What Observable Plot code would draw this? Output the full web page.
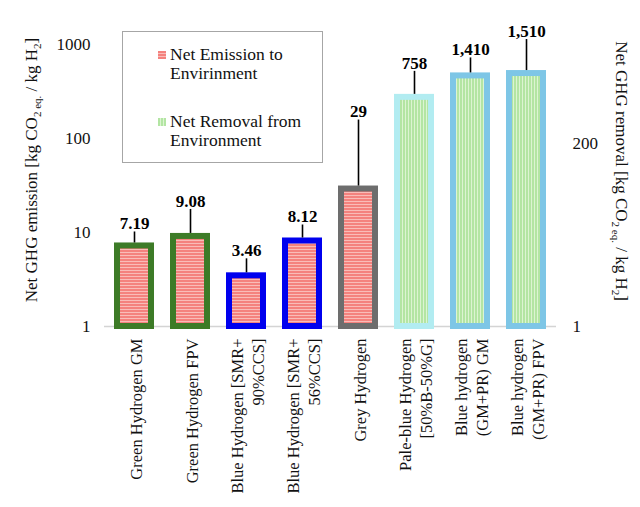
<!DOCTYPE html>
<html><head><meta charset="utf-8">
<script src="https://cdn.jsdelivr.net/npm/d3@7"></script>
<script src="https://cdn.jsdelivr.net/npm/@observablehq/plot@0.6"></script>
<style>
body{margin:0;background:#fff;}
#wrap{position:relative;width:640px;height:507px;font-family:"Liberation Serif","Times New Roman",serif;}
#legend{position:absolute;left:122px;top:31px;width:201px;height:132px;border:1px solid #a6a6a6;box-sizing:border-box;background:#fff;font-size:17.5px;line-height:19px;color:#111;}
#legend .txt{position:absolute;left:47px;white-space:nowrap;}
#legend .sw{position:absolute;left:35px;width:8px;height:8px;}
.red{background:repeating-linear-gradient(to bottom,#f4827e 0 2px,#f9bcb8 2px 3px);}
.green{background:repeating-linear-gradient(to right,#b3e5a3 0 2px,#dcf4d2 2px 3px);}
</style></head>
<body>
<div id="wrap">
  <div id="chart"></div>
  <div id="legend">
    <div class="sw red" style="top:19px"></div>
    <div class="txt" style="top:13px">Net Emission to<br>Envirinment</div>
    <div class="sw green" style="top:86px"></div>
    <div class="txt" style="top:80px">Net Removal from<br>Environment</div>
  </div>
</div>
<script>
// ---- data ----
const categories = ["Green Hydrogen GM","Green Hydrogen FPV","Blue Hydrogen [SMR+\n90%CCS]","Blue Hydrogen [SMR+\n56%CCS]","Grey Hydrogen","Pale-blue Hydrogen\n[50%B-50%G]","Blue hydrogen\n(GM+PR) GM","Blue hydrogen\n(GM+PR) FPV"];
const values = [7.19, 9.08, 3.46, 8.12, 29, 758, 1410, 1510];
const kinds = ["emission","emission","emission","emission","emission","removal","removal","removal"];
const outlineColors = ["#3d7b27","#3d7b27","#0000ee","#0000ee","#6d6d6d","#b2ecf1","#7ec6e6","#7ec6e6"];
const leftTicks = [1, 10, 100, 1000];
const rightTicks = [1, 200];
const rightMax = 3500; // right-axis value level with left-axis 1000

// ---- layout (annotation placement, px above bar top) ----
const labelLift = [22, 35, 25, 24, 77, 34, 26, 42];

const W = 640, H = 507, mt = 44, mb = 181, ml = 104, mr = 84;
const pxPerDecade = (H - mt - mb) / 3;
const toLeft = v => Math.pow(10, 3 * Math.log10(v) / Math.log10(rightMax));

const rows = categories.map((c, i) => {
  const y = kinds[i] === "emission" ? values[i] : toLeft(values[i]);
  return {cat: c, value: values[i], kind: kinds[i], y,
    outline: outlineColors[i], label: d3.format(",")(values[i]),
    labelAt: y * Math.pow(10, labelLift[i] / pxPerDecade)};
});

const plot = Plot.plot({
  width: W, height: H,
  marginTop: mt, marginBottom: mb, marginLeft: ml, marginRight: mr,
  style: {fontFamily: "Liberation Serif, Times New Roman, serif", fontSize: "17px", color: "#111", background: "#fff"},
  x: {domain: categories, paddingInner: 0.4, paddingOuter: 0.2},
  y: {type: "log", domain: [1, 1000]},
  marks: [
    Plot.ruleY([1], {stroke: "#d4d4d4", strokeWidth: 1.5}),
    Plot.barY(rows.filter(d => d.kind === "emission"), {x: "cat", y1: 1, y2: "y", fill: "url(#hatchRed)", stroke: "outline", strokeWidth: 6}),
    Plot.barY(rows.filter(d => d.kind === "removal"), {x: "cat", y1: 1, y2: "y", fill: "url(#hatchGreen)", stroke: "outline", strokeWidth: 6}),
    Plot.ruleX(rows, {x: "cat", y1: "labelAt", y2: "y", insetTop: 8, insetBottom: 3, stroke: "#000", strokeWidth: 1.6}),
    Plot.text(rows, {x: "cat", y: "labelAt", text: "label", fontWeight: "bold", fontSize: 17, fill: "#000"}),
    Plot.axisY(leftTicks, {tickSize: 0, tickPadding: 14, tickFormat: d => String(d), label: null, fontSize: 17}),
    Plot.text(rightTicks, {y: d => toLeft(d), text: d => String(d), frameAnchor: "right", textAnchor: "start", dx: 16, fontSize: 17, fill: "#111"}),
    Plot.axisX({tickRotate: -90, tickSize: 0, tickPadding: 12, label: null, fontSize: 16.5, lineHeight: 1.33})
  ]
});

const svg = d3.select(plot);
const defs = svg.insert("defs", ":first-child");
const pr = defs.append("pattern").attr("id", "hatchRed").attr("patternUnits", "userSpaceOnUse").attr("width", 4).attr("height", 3);
pr.append("rect").attr("width", 4).attr("height", 3).attr("fill", "#f4827e");
pr.append("rect").attr("width", 4).attr("height", 1).attr("fill", "#f9bcb8");
const pg = defs.append("pattern").attr("id", "hatchGreen").attr("patternUnits", "userSpaceOnUse").attr("width", 3).attr("height", 4);
pg.append("rect").attr("width", 3).attr("height", 4).attr("fill", "#b3e5a3");
pg.append("rect").attr("width", 1).attr("height", 4).attr("fill", "#dcf4d2");

function title(x, y, rot, parts) {
  const t = svg.append("text").attr("transform", `translate(${x},${y}) rotate(${rot})`)
    .attr("text-anchor", "middle").attr("font-size", 17).attr("fill", "#111")
    .attr("font-family", "Liberation Serif, Times New Roman, serif");
  parts.forEach(([s, sub], k) => {
    const ts = t.append("tspan").text(s);
    if (sub) ts.attr("font-size", 11).attr("dy", 4);
    else if (k > 0) ts.attr("dy", -4);
  });
}
title(37, 170, -90, [["Net GHG emission [kg CO"], ["2 eq.", true], [" / kg H"], ["2", true], ["]"]]);
title(616, 171, 90, [["Net GHG removal [kg CO"], ["2 eq.", true], [" / kg H"], ["2", true], ["]"]]);

document.getElementById("chart").appendChild(plot);
</script>
</body></html>
